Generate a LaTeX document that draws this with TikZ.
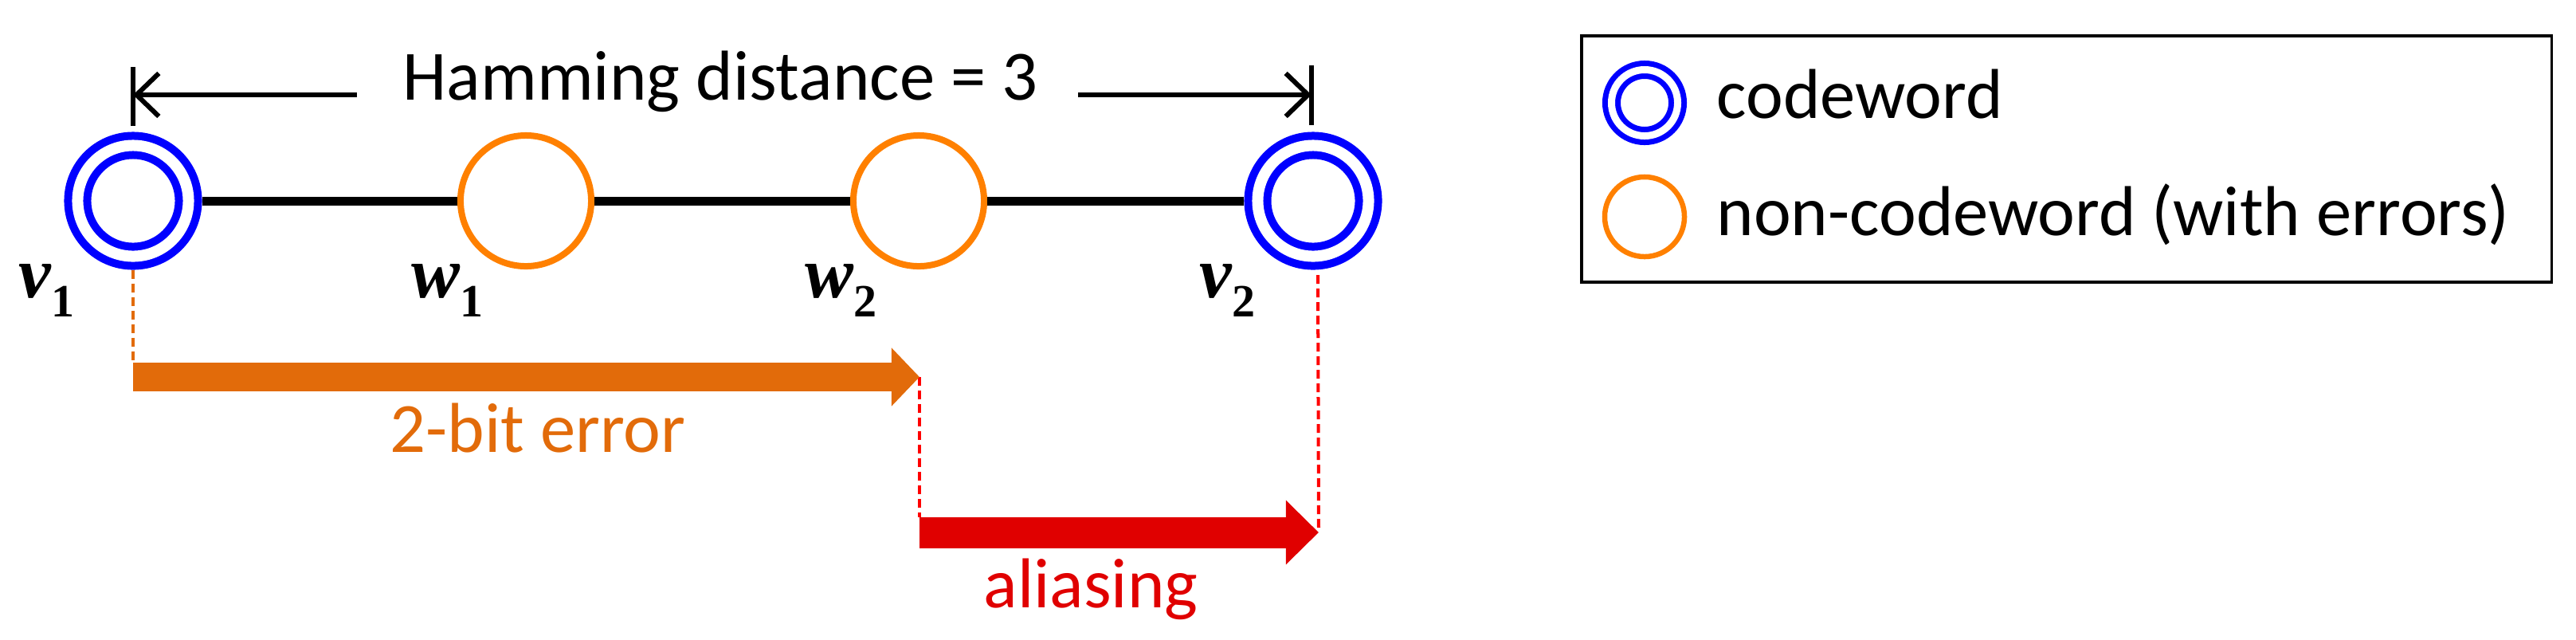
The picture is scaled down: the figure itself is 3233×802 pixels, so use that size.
\documentclass[tikz,border=0pt]{standalone}
\usepackage{fontspec}
\setmainfont{Carlito}
\newfontfamily\tms{Liberation Serif}
\usetikzlibrary{arrows.meta,calc}
\definecolor{cblue}{RGB}{0,0,255}
\definecolor{corange}{RGB}{255,128,0}
\definecolor{darrow}{RGB}{226,107,10}
\definecolor{rarrow}{RGB}{224,0,0}
\definecolor{rdash}{RGB}{255,0,0}
\newcommand{\sub}[1]{\raisebox{-0.24cm}{\fontsize{16.5pt}{18pt}\selectfont\upshape #1}}
\begin{document}
\begin{tikzpicture}[x=0.01cm,y=-0.01cm,
  cw/.style={circle,draw=cblue,double=white,line width=0.1cm,double distance=0.14cm,minimum size=1.39cm,inner sep=0pt,outer sep=0.17cm},
  ncw/.style={circle,draw=corange,line width=0.08cm,minimum size=1.64cm,inner sep=0pt,outer sep=0.04cm},
  lcw/.style={circle,draw=cblue,double=white,line width=0.07cm,double distance=0.09cm,minimum size=0.83cm,inner sep=0pt},
  lncw/.style={circle,draw=corange,line width=0.065cm,minimum size=1.0cm,inner sep=0pt},
  txt/.style={font=\fontsize{25.2pt}{30pt}\selectfont,inner sep=0pt,anchor=base},
  lab/.style={font=\tms\fontsize{26pt}{30pt}\selectfont\bfseries\itshape,inner sep=0pt,anchor=base west},
  edge/.style={line width=0.11cm,black},
  dim/.style={line width=0.06cm,black},
  dsh/.style={line width=0.04cm,dash pattern=on 0.11cm off 0.06cm},
]
\useasboundingbox (0,0) rectangle (3233,802);

% main nodes
\node[cw] (v1) at (167,252) {};
\node[ncw] (w1) at (660,252) {};
\node[ncw] (w2) at (1153,252) {};
\node[cw] (v2) at (1648,252) {};
\draw[edge] (v1) -- (w1);
\draw[edge] (w1) -- (w2);
\draw[edge] (w2) -- (v2);

% labels
\node[lab] (lv1) at (23,373) {v\sub{1}};
\node[lab] (lw1) at (516,373) {w\sub{1}};
\node[lab] (lw2) at (1010,373) {w\sub{2}};
\node[lab] (lv2) at (1505,373) {v\sub{2}};

% Hamming distance dimension
\node[txt] (hd) at (904,125) {Hamming distance = 3};
\coordinate (tk1a) at (167,84);
\coordinate (tk1b) at (167,158);
\coordinate (tk2a) at (1646,82);
\coordinate (tk2b) at (1646,157);
\coordinate (tk1) at (167,119);
\coordinate (tk2) at (1646,119);
\coordinate (d1) at (448,119);
\coordinate (d2) at (1353,119);
\draw[dim] (tk1a) -- (tk1b);
\draw[dim] (tk2a) -- (tk2b);
\draw[dim,-{Straight Barb[length=0.28cm,width=0.54cm]}] (d1) -- (tk1);
\draw[dim,-{Straight Barb[length=0.28cm,width=0.54cm]}] (d2) -- (tk2);

% error arrows
\coordinate (e1) at (167,473);
\coordinate (e2) at (1154,473);
\coordinate (e1t) at (167,455);
\coordinate (r1) at (1154,668);
\coordinate (r1t) at (1154,649);
\coordinate (r2) at (1655,668);
\coordinate (v2d) at (1654,345);
\draw[dsh,darrow] (v1.south) -- (e1t);
\draw[dsh,rdash] (e2) -- (r1t);
\draw[dsh,rdash] (v2d) -- (r2);
\draw[darrow,line width=0.36cm,-{Triangle[length=0.35cm,width=0.71cm]}] (e1) -- (e2);
\draw[rarrow,line width=0.39cm,-{Triangle[length=0.41cm,width=0.78cm]}] (r1) -- (r2);
\node[txt,text=darrow] (t2b) at (675,567) {2-bit error};
\node[txt,text=rarrow] (tal) at (1369,762) {aliasing};

% legend
\node[draw,line width=0.035cm,minimum width=12.17cm,minimum height=3.09cm,inner sep=0pt,anchor=north west] (leg) at (1983,43) {};
\node[lcw] (lg1) at (2064,129) {};
\node[lncw] (lg2) at (2064,272) {};
\node[txt,anchor=base west] (lt1) at (2154,148) {codeword};
\node[txt,anchor=base west] (lt2) at (2154,295) {non-codeword (with errors)};
\end{tikzpicture}
\end{document}
